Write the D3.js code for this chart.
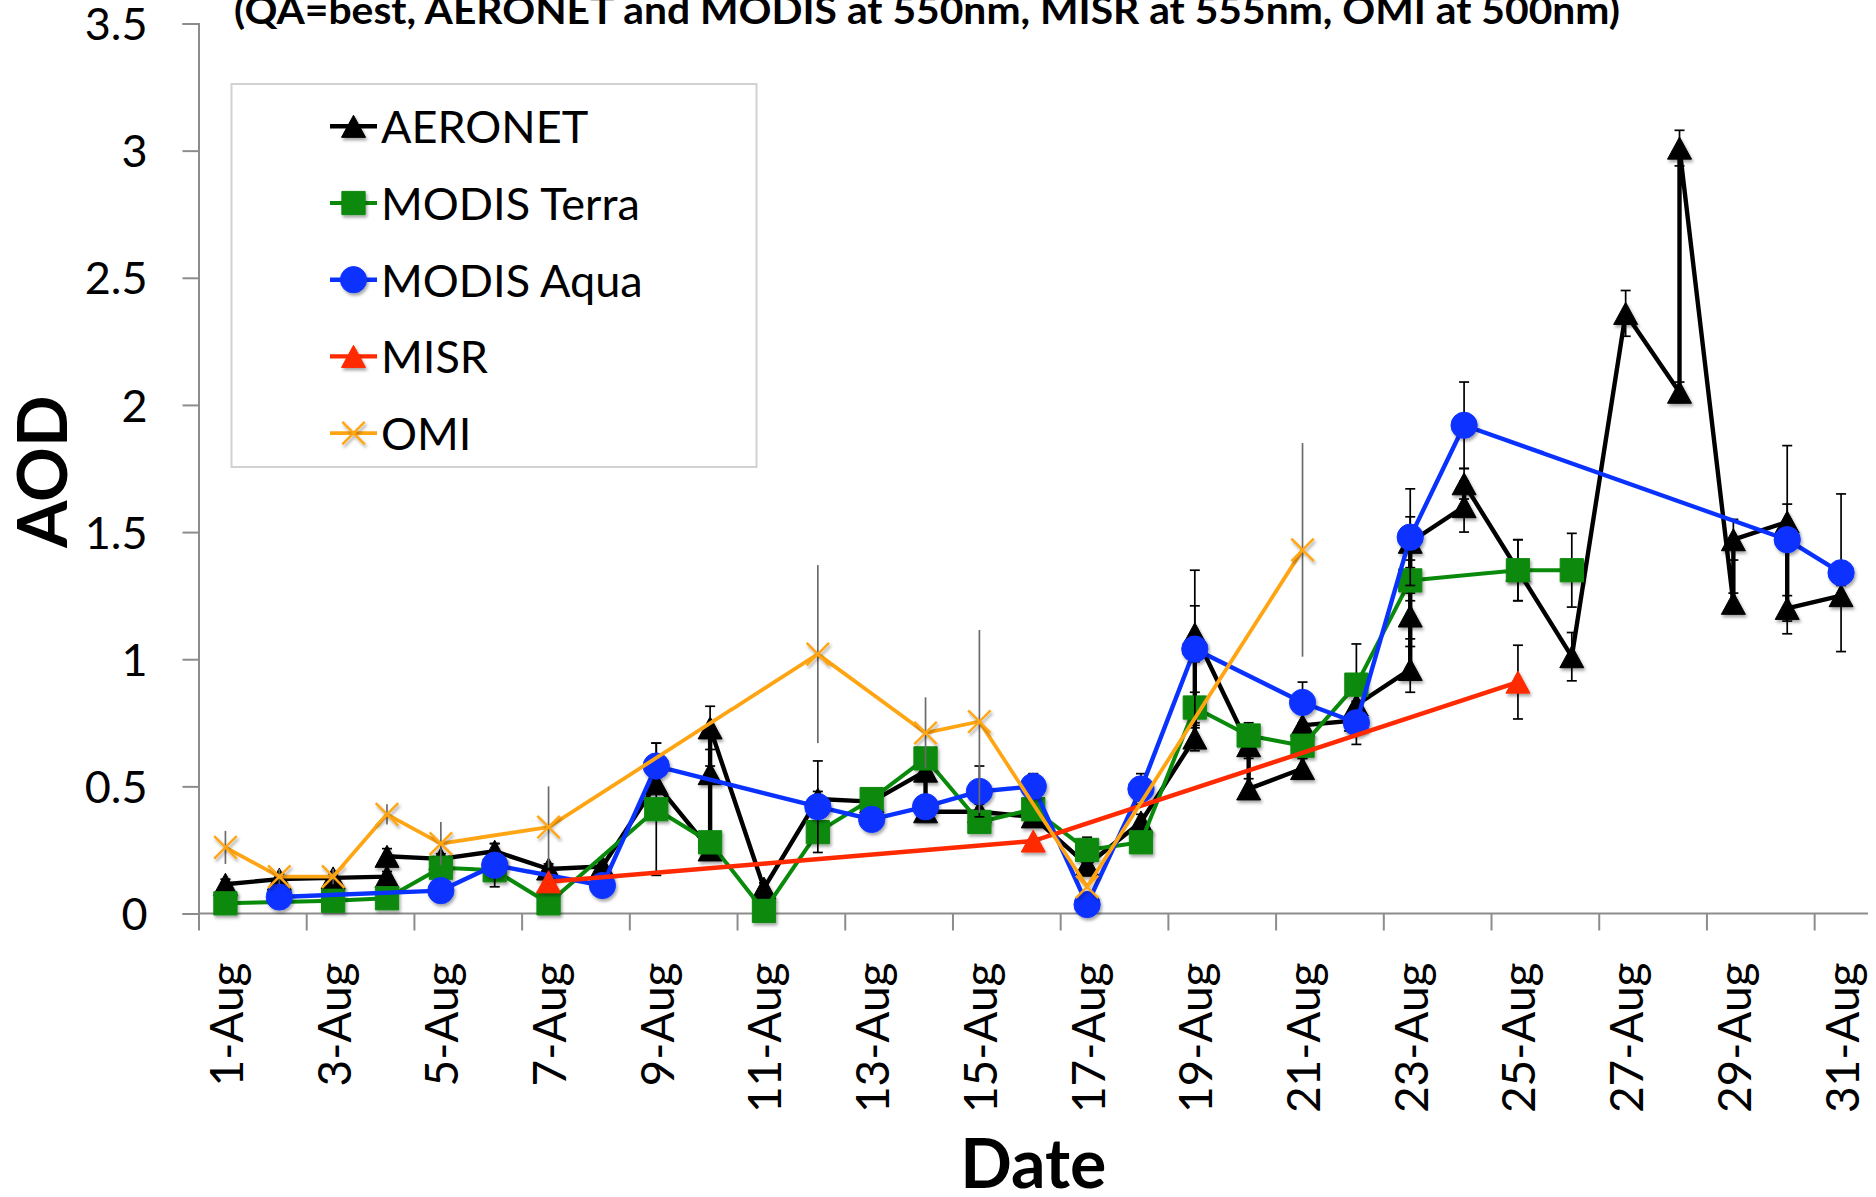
<!DOCTYPE html>
<html>
<head>
<meta charset="utf-8">
<script src="https://cdn.jsdelivr.net/npm/d3@7"></script>
<style>
  html, body { margin: 0; padding: 0; background: #fff; }
  svg { display: block; font-family: Lato, "Open Sans", sans-serif; }
</style>
</head>
<body>
<svg id="chart" width="1876" height="1197"></svg>
<script>
// ---------------- data ----------------
const dayLabels = ["1-Aug","2-Aug","3-Aug","4-Aug","5-Aug","6-Aug","7-Aug","8-Aug","9-Aug","10-Aug",
  "11-Aug","12-Aug","13-Aug","14-Aug","15-Aug","16-Aug","17-Aug","18-Aug","19-Aug","20-Aug",
  "21-Aug","22-Aug","23-Aug","24-Aug","25-Aug","26-Aug","27-Aug","28-Aug","29-Aug","30-Aug","31-Aug"];
const labelDays = [1,3,5,7,9,11,13,15,17,19,21,23,25,27,29,31];
const yTickValues = [0,0.5,1,1.5,2,2.5,3,3.5];
const yTickLabels = ["0","0.5","1","1.5","2","2.5","3","3.5"];

// AERONET: several retrievals per day, plotted in order
const aeronetDay = [1,2,3,4,4,5,6,7,8,9,10,10,10,11,12,13,14,14,15,16,17,18,19,19,20,20,21,21,22,22,23,23,23,24,24,25,26,27,28,28,29,29,30,30,31];
const aeronetAOD = [0.115,0.135,0.14,0.145,0.225,0.215,0.245,0.175,0.185,0.51,0.25,0.55,0.73,0.10,0.45,0.44,0.56,0.40,0.40,0.38,0.19,0.36,0.69,1.10,0.66,0.49,0.57,0.74,0.76,0.82,0.96,1.17,1.46,1.60,1.69,1.35,1.01,2.36,2.05,3.01,1.22,1.47,1.54,1.20,1.25];
const aeronetErr = [0.02,0.02,0.02,0.02,0.03,0.02,0.03,0.02,0.02,0.03,0.03,0.03,0.085,0.02,0.03,0.03,0.03,0.03,0.03,0.02,0.02,0.03,0.05,0.11,0.05,0.04,0.04,0.05,0.05,0.04,0.09,0.09,0.1,0.1,0.06,0.12,0.095,0.09,0.04,0.07,0.04,0.08,0.07,0.05,0.04];

// one value per day (null = no retrieval)
const terraAOD = [0.04,null,0.05,0.06,0.18,0.17,0.04,null,0.41,0.28,0.01,0.32,0.45,0.61,0.36,0.41,0.25,0.28,0.81,0.70,0.66,0.90,1.31,null,1.35,1.35,null,null,null,null,null];
const terraErr = [0.02,null,0.02,0.02,0.03,0.03,0.02,null,0.26,0.03,0.02,0.04,0.03,0.04,0.04,0.04,0.05,0.04,0.06,0.05,0.05,0.16,0.08,null,0.12,0.145,null,null,null,null,null];
const aquaAOD = [null,0.065,null,null,0.09,0.19,null,0.11,0.58,null,null,0.42,0.37,0.42,0.48,0.50,0.035,0.49,1.04,null,0.83,0.75,1.48,1.92,null,null,null,null,null,1.47,1.34];
const aquaErr = [null,0.02,null,null,0.02,0.085,null,0.02,0.09,null,null,0.18,0.03,0.03,0.1,0.05,0.02,0.06,0.31,null,0.08,0.085,0.19,0.17,null,null,null,null,null,0.37,0.31];
const misrAOD = [null,null,null,null,null,null,0.125,null,null,null,null,null,null,null,null,0.285,null,null,null,null,null,null,null,null,0.91,null,null,null,null,null,null];
const misrErr = [null,null,null,null,null,null,0,null,null,null,null,null,null,null,null,0,null,null,null,null,null,null,null,null,0.145,null,null,null,null,null,null];
const omiAOD = [0.26,0.145,0.145,0.39,0.275,null,0.34,null,null,null,null,1.02,null,0.71,0.755,null,0.105,null,null,null,1.43,null,null,null,null,null,null,null,null,null,null];
const omiErr = [0.065,0.03,0.03,0.04,0.085,null,0.16,null,null,null,null,0.35,null,0.14,0.36,null,0,null,null,null,0.42,null,null,null,null,null,null,null,null,null,null];

const seriesNames = ["AERONET","MODIS Terra","MODIS Aqua","MISR","OMI"];
const seriesColors = ["#000000","#0a8a0a","#0a32ff","#ff2a00","#ffa514"];
const titleText = "(QA=best, AERONET and MODIS at 550nm, MISR at 555nm, OMI at 500nm)";

// ---------------- build ----------------
function daily(vals, errs) {
  return vals.map((v, i) => ({ day: i + 1, v: v, e: errs[i] })).filter(d => d.v !== null);
}
const series = [
  { name: seriesNames[0], color: seriesColors[0], shape: "tri",    lw: 4.4, pts: aeronetDay.map((d, i) => ({ day: d, v: aeronetAOD[i], e: aeronetErr[i] })) },
  { name: seriesNames[1], color: seriesColors[1], shape: "square", lw: 4.0, pts: daily(terraAOD, terraErr) },
  { name: seriesNames[2], color: seriesColors[2], shape: "circle", lw: 4.4, pts: daily(aquaAOD, aquaErr) },
  { name: seriesNames[3], color: seriesColors[3], shape: "tri",    lw: 4.4, pts: daily(misrAOD, misrErr) },
  { name: seriesNames[4], color: seriesColors[4], shape: "x",      lw: 3.8, pts: daily(omiAOD, omiErr) }
];

const svg = d3.select("#chart");
const defs = svg.append("defs");
const f = defs.append("filter").attr("id", "shadow").attr("x", "-50%").attr("y", "-50%").attr("width", "200%").attr("height", "200%");
f.append("feDropShadow").attr("dx", 1.5).attr("dy", 2.5).attr("stdDeviation", 1.6).attr("flood-color", "#000").attr("flood-opacity", 0.35);

const x = d3.scaleLinear().domain([0.5, 31.5]).range([198.5, 1868]);
const y = d3.scaleLinear().domain([0, 3.5]).range([913.5, 23.5]);

const axisColor = "#8c8c8c";

// Y axis
const gy = svg.append("g").attr("transform", `translate(${x(0.5)},0)`)
  .call(d3.axisLeft(y).tickValues(yTickValues).tickFormat((d, i) => yTickLabels[i]).tickSize(16).tickPadding(35));
gy.select(".domain").attr("stroke", axisColor).attr("stroke-width", 2);
gy.selectAll(".tick line").attr("stroke", axisColor).attr("stroke-width", 2);
gy.selectAll(".tick text").attr("font-family", "Lato").attr("font-size", 45).attr("fill", "#000").attr("dy", "0.36em");

// X axis (tick marks between category pairs)
const boundaryTicks = labelDays.map(d => d - 0.5);
const gx = svg.append("g").attr("transform", `translate(0,${y(0)})`)
  .call(d3.axisBottom(x).tickValues(boundaryTicks).tickFormat("").tickSize(17));
gx.select(".domain").attr("stroke", axisColor).attr("stroke-width", 2).attr("d", `M${x(0.5)},0H${x(31.5)}`);
gx.selectAll(".tick line").attr("stroke", axisColor).attr("stroke-width", 2);

// X labels (rotated)
const gxl = svg.append("g").attr("transform", `translate(0,${y(0)})`)
  .call(d3.axisBottom(x).tickValues(labelDays).tickFormat(d => dayLabels[d - 1]).tickSize(0));
gxl.select(".domain").remove();
gxl.selectAll(".tick text")
  .attr("font-family", "Lato").attr("font-size", 46).attr("fill", "#000")
  .attr("transform", "rotate(-90)")
  .attr("text-anchor", "end")
  .attr("x", -49).attr("y", 17).attr("dy", 0);

// Title
svg.append("text").attr("x", 234).attr("y", 24)
  .attr("font-family", "Lato").attr("font-weight", "bold").attr("font-size", 38)
  .attr("textLength", 1386).attr("lengthAdjust", "spacingAndGlyphs")
  .text(titleText);

// Axis titles
svg.append("text").attr("transform", `translate(67,${y(1.75) + 3}) rotate(-90)`)
  .attr("text-anchor", "middle").attr("font-family", "Lato").attr("font-weight", "bold").attr("font-size", 68)
  .text("AOD");
svg.append("text").attr("x", (x(0.5) + x(31.5)) / 2).attr("y", 1188)
  .attr("text-anchor", "middle").attr("font-family", "Lato").attr("font-weight", "bold").attr("font-size", 68)
  .text("Date");

// marker drawing (Excel-style triangle: width = 24, height = 22, box-centred)
const excelTriangle = {
  draw(ctx, size) {
    const w = Math.sqrt(size), h = w * 0.92;
    ctx.moveTo(0, -h / 2); ctx.lineTo(w / 2, h / 2); ctx.lineTo(-w / 2, h / 2); ctx.closePath();
  }
};
const sym = {
  tri: d3.symbol().type(excelTriangle).size(576),
  square: d3.symbol().type(d3.symbolSquare).size(540),
  circle: d3.symbol().type(d3.symbolCircle).size(540),
  x: d3.symbol().type(d3.symbolX).size(330)
};
function drawMarker(g, shape, color, cx, cy) {
  const p = g.append("path").attr("d", sym[shape]()).attr("transform", `translate(${cx},${cy})`);
  if (shape === "x") p.attr("fill", "none").attr("stroke", color).attr("stroke-width", 2.4);
  else p.attr("fill", color).attr("stroke", color).attr("stroke-width", 1);
}

const line = d3.line().x(d => x(d.day)).y(d => y(d.v));

series.forEach((s) => {
  const g = svg.append("g");
  const eg = g.append("g");
  s.pts.filter(d => d.e).forEach(d => {
    const isOmi = s.shape === "x";
    const col = isOmi ? "#6b6b6b" : "#000";
    eg.append("line").attr("x1", x(d.day)).attr("x2", x(d.day))
      .attr("y1", y(d.v - d.e)).attr("y2", y(d.v + d.e)).attr("stroke", col).attr("stroke-width", 1.7);
    if (!isOmi) {
      [d.v - d.e, d.v + d.e].forEach(vv => {
        eg.append("line").attr("x1", x(d.day) - 5).attr("x2", x(d.day) + 5)
          .attr("y1", y(vv)).attr("y2", y(vv)).attr("stroke", col).attr("stroke-width", 1.7);
      });
    }
  });
  g.append("path").datum(s.pts).attr("d", line).attr("fill", "none")
    .attr("stroke", s.color).attr("stroke-width", s.lw)
    .attr("stroke-linejoin", "round");
  const mg = g.append("g").attr("filter", "url(#shadow)");
  s.pts.forEach(d => drawMarker(mg, s.shape, s.color, x(d.day), y(d.v)));
});

// Legend
const lg = svg.append("g");
lg.append("rect").attr("x", 231.5).attr("y", 84).attr("width", 525).attr("height", 383)
  .attr("fill", "#fff").attr("stroke", "#d2d2d2").attr("stroke-width", 2);
series.forEach((s, i) => {
  const base = 143.3 + i * 76.7;
  const cy = base - 17;
  const row = lg.append("g");
  row.append("line").attr("x1", 330).attr("x2", 377).attr("y1", cy).attr("y2", cy)
    .attr("stroke", s.color).attr("stroke-width", s.lw);
  const mg = row.append("g").attr("filter", "url(#shadow)");
  drawMarker(mg, s.shape, s.color, 353.5, cy);
  row.append("text").attr("x", 381).attr("y", base).attr("font-family", "Lato").attr("font-size", 45)
    .attr("fill", "#000").text(s.name);
});
</script>
</body>
</html>
